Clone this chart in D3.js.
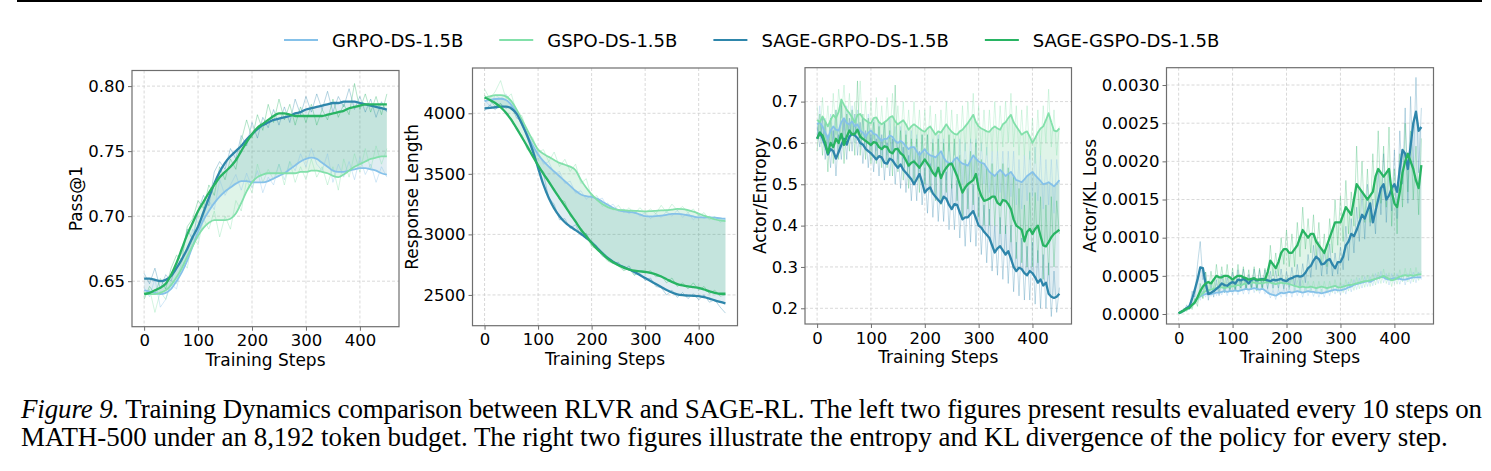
<!DOCTYPE html>
<meta charset="utf-8">
<body>
<script src="https://cdn.jsdelivr.net/npm/d3@7"></script>
<style>
  body { margin: 0; background: #fff; }
  svg text { font-family: "DejaVu Sans", sans-serif; fill: #000; }
  svg .caption text { font-family: "Liberation Serif", "Times New Roman", serif; }
</style>
<svg id="fig" width="1491" height="471"></svg>
<script>
// ---- data ----
var seriesNames = ["GRPO-DS-1.5B", "GSPO-DS-1.5B", "SAGE-GRPO-DS-1.5B", "SAGE-GSPO-DS-1.5B"];
var seriesColors = ["#85c1e9", "#82e0aa", "#2e86ab", "#28b463"];
var xTicks = [0, 100, 200, 300, 400];

// evaluated every 10 steps (left two panels)
var evalSteps = d3.range(0, 451, 10);
// logged values sampled every 5 steps (right two panels)
var logSteps = d3.range(0, 451, 5);

// Pass@1
var passGrpo = [0.643,0.642,0.641,0.640,0.641,0.644,0.650,0.657,0.666,0.677,
  0.688,0.697,0.704,0.710,0.715,0.719,0.722,0.725,0.727,0.727,
  0.726,0.726,0.726,0.727,0.729,0.731,0.733,0.736,0.739,0.742,
  0.744,0.745,0.744,0.741,0.738,0.735,0.734,0.734,0.735,0.736,
  0.737,0.737,0.736,0.735,0.733,0.732];
var passGspo = [0.641,0.640,0.640,0.641,0.643,0.647,0.653,0.660,0.669,0.677,
  0.685,0.691,0.695,0.697,0.697,0.697,0.698,0.702,0.710,0.719,
  0.726,0.730,0.732,0.733,0.733,0.733,0.733,0.733,0.733,0.734,
  0.734,0.735,0.735,0.734,0.733,0.731,0.730,0.732,0.735,0.738,
  0.740,0.742,0.744,0.745,0.746,0.746];
var passSageGrpo = [0.652,0.652,0.651,0.650,0.651,0.654,0.660,0.667,0.675,0.684,
  0.692,0.703,0.714,0.725,0.734,0.741,0.746,0.750,0.754,0.759,
  0.763,0.767,0.770,0.772,0.774,0.775,0.776,0.777,0.779,0.780,
  0.782,0.783,0.784,0.785,0.786,0.787,0.787,0.788,0.788,0.788,
  0.787,0.786,0.785,0.784,0.783,0.782];
var passSageGspo = [0.640,0.641,0.643,0.645,0.648,0.655,0.664,0.675,0.686,0.695,
  0.704,0.711,0.718,0.724,0.730,0.734,0.738,0.743,0.750,0.757,
  0.763,0.768,0.771,0.774,0.777,0.779,0.779,0.778,0.777,0.777,
  0.777,0.777,0.777,0.777,0.778,0.779,0.780,0.781,0.783,0.784,
  0.785,0.786,0.786,0.786,0.786,0.786];
var passGrpoRaw = [0.645,0.638,0.652,0.630,0.636,0.648,0.644,0.662,0.668,0.690,
  0.682,0.700,0.712,0.705,0.728,0.716,0.724,0.732,0.720,0.733,
  0.722,0.735,0.718,0.730,0.724,0.740,0.728,0.742,0.735,0.748,
  0.738,0.752,0.740,0.735,0.748,0.726,0.740,0.730,0.742,0.728,
  0.745,0.732,0.740,0.726,0.738,0.730];
var passGspoRaw = [0.638,0.644,0.626,0.642,0.636,0.650,0.648,0.666,0.660,0.684,
  0.678,0.698,0.690,0.704,0.684,0.700,0.690,0.712,0.704,0.728,
  0.718,0.740,0.726,0.736,0.728,0.740,0.724,0.742,0.726,0.738,
  0.728,0.744,0.730,0.738,0.724,0.738,0.720,0.744,0.730,0.748,
  0.734,0.752,0.736,0.754,0.740,0.752];
var passSageGrpoRaw = [0.656,0.648,0.660,0.644,0.655,0.650,0.664,0.672,0.690,0.682,
  0.704,0.716,0.708,0.734,0.742,0.736,0.752,0.744,0.762,0.754,
  0.772,0.760,0.776,0.768,0.782,0.770,0.784,0.772,0.790,0.778,
  0.792,0.780,0.794,0.782,0.796,0.780,0.792,0.784,0.798,0.782,
  0.792,0.780,0.790,0.776,0.788,0.780];
var passSageGspoRaw = [0.636,0.646,0.640,0.652,0.644,0.660,0.670,0.666,0.692,0.698,
  0.712,0.706,0.724,0.716,0.738,0.728,0.744,0.736,0.758,0.774,
  0.760,0.778,0.766,0.786,0.772,0.790,0.774,0.786,0.770,0.784,
  0.772,0.786,0.770,0.782,0.774,0.790,0.776,0.786,0.778,0.802,
  0.782,0.794,0.780,0.792,0.778,0.794];

// Response length
var lenGrpo = [4100,4110,4118,4120,4110,4070,4000,3910,3820,3735,
  3660,3605,3560,3520,3480,3440,3400,3360,3330,3315,
  3310,3295,3270,3245,3220,3200,3190,3185,3180,3165,
  3150,3148,3150,3155,3162,3170,3170,3165,3158,3148,
  3140,3140,3140,3138,3133,3130];
var lenGspo = [4130,4140,4150,4150,4140,4100,4030,3945,3860,3775,
  3700,3665,3640,3615,3590,3575,3560,3530,3450,3385,
  3330,3285,3250,3225,3210,3203,3200,3197,3195,3192,
  3190,3192,3195,3198,3200,3205,3210,3208,3200,3188,
  3172,3155,3140,3125,3115,3110];
var lenSageGrpo = [4040,4045,4050,4055,4055,4040,3995,3910,3810,3690,
  3550,3410,3300,3215,3150,3100,3065,3035,3005,2970,
  2935,2890,2845,2805,2775,2750,2730,2710,2690,2665,
  2640,2615,2590,2565,2540,2520,2505,2498,2495,2493,
  2490,2482,2470,2455,2442,2430];
var lenSageGspo = [4130,4110,4085,4050,4005,3945,3875,3800,3725,3645,
  3570,3500,3435,3365,3300,3235,3170,3105,3040,2985,
  2930,2880,2840,2800,2770,2745,2725,2710,2700,2695,
  2690,2682,2670,2652,2630,2608,2590,2578,2570,2564,
  2558,2545,2530,2518,2510,2510];
var lenGrpoRaw = [4110,4060,4150,4120,4160,4080,4020,3900,3840,3700,
  3680,3580,3600,3500,3520,3420,3440,3340,3360,3290,
  3330,3280,3300,3220,3250,3190,3210,3170,3200,3150,
  3180,3130,3170,3140,3190,3150,3200,3140,3180,3120,
  3160,3130,3150,3120,3140,3120];
var lenGspoRaw = [4200,4120,4180,4270,4120,4160,4000,3980,3830,3800,
  3680,3700,3600,3680,3560,3620,3520,3580,3420,3460,
  3300,3320,3230,3260,3200,3240,3180,3220,3170,3220,
  3180,3210,3170,3240,3180,3250,3200,3230,3180,3210,
  3150,3180,3120,3150,3100,3120];
var lenSageGrpoRaw = [4020,4070,4030,4080,4040,4060,3960,3940,3800,3720,
  3560,3500,3300,3250,3120,3130,3050,3080,2990,3010,
  2920,2880,2820,2800,2760,2770,2710,2740,2670,2680,
  2620,2640,2570,2560,2500,2540,2480,2520,2470,2510,
  2460,2500,2440,2460,2400,2350];
var lenSageGspoRaw = [4150,4100,4060,4080,3990,3960,3860,3820,3700,3660,
  3560,3520,3420,3380,3290,3270,3150,3120,3020,3000,
  2900,2880,2830,2780,2760,2740,2700,2720,2660,2700,
  2680,2700,2650,2660,2600,2640,2570,2600,2550,2600,
  2540,2570,2510,2540,2490,2500];

// Actor/Entropy (smoothed and raw, every 5 steps)
var entGrpo = [.645,.650,.640,.625,.610,.630,.640,.632,.630,.650,
  .660,.648,.645,.652,.640,.645,.630,.625,.615,.625,
  .630,.622,.620,.612,.605,.610,.610,.618,.615,.605,
  .600,.605,.600,.592,.585,.590,.590,.580,.570,.578,
  .585,.575,.570,.568,.565,.572,.580,.565,.555,.552,
  .550,.560,.565,.555,.550,.548,.545,.558,.570,.562,
  .555,.552,.550,.540,.530,.525,.520,.528,.535,.528,
  .520,.525,.530,.520,.510,.508,.505,.512,.520,.525,
  .530,.522,.515,.508,.500,.502,.505,.500,.495,.502,
  .510];
var entGspo = [.656,.650,.664,.652,.640,.655,.668,.660,.675,.705,
  .692,.680,.672,.662,.650,.668,.670,.660,.655,.650,
  .648,.660,.662,.650,.645,.650,.655,.662,.665,.652,
  .645,.650,.655,.645,.632,.640,.645,.640,.635,.630,
  .627,.635,.640,.630,.620,.628,.625,.635,.645,.635,
  .627,.622,.620,.628,.632,.640,.648,.658,.668,.650,
  .640,.635,.632,.628,.627,.635,.640,.635,.632,.645,
  .650,.660,.668,.650,.640,.630,.620,.625,.628,.615,
  .600,.612,.625,.635,.640,.655,.672,.650,.630,.628,
  .635];
var entSageGrpo = [.610,.625,.612,.595,.572,.585,.580,.562,.578,.595,
  .610,.596,.615,.622,.618,.612,.600,.596,.586,.580,
  .575,.568,.560,.568,.565,.552,.550,.562,.558,.548,
  .540,.548,.535,.528,.520,.512,.500,.512,.525,.505,
  .480,.488,.492,.478,.470,.462,.455,.470,.465,.450,
  .440,.452,.450,.432,.415,.420,.420,.428,.435,.418,
  .400,.395,.385,.378,.370,.352,.335,.345,.350,.340,
  .330,.338,.320,.300,.290,.298,.295,.285,.280,.290,
  .285,.275,.262,.270,.255,.262,.235,.228,.225,.228,
  .235];
var entSageGspo = [.610,.625,.618,.600,.575,.600,.590,.610,.600,.622,
  .595,.615,.630,.620,.622,.632,.615,.610,.605,.600,
  .595,.602,.600,.590,.585,.592,.590,.578,.575,.585,
  .585,.575,.570,.558,.545,.552,.555,.548,.540,.550,
  .560,.550,.540,.528,.520,.540,.515,.530,.540,.548,
  .550,.535,.520,.500,.480,.492,.500,.505,.510,.525,
  .490,.472,.460,.462,.465,.470,.470,.455,.450,.462,
  .460,.452,.440,.415,.400,.395,.390,.362,.385,.392,
  .380,.392,.400,.375,.352,.350,.360,.372,.380,.385,
  .390];
var entGrpoRaw = [.62,.69,.60,.66,.58,.67,.61,.68,.60,.69,
  .63,.69,.61,.69,.60,.68,.59,.66,.58,.67,
  .59,.66,.58,.65,.57,.65,.57,.66,.58,.64,
  .56,.64,.56,.63,.54,.63,.55,.62,.53,.62,
  .54,.62,.53,.61,.52,.62,.53,.61,.51,.60,
  .50,.60,.52,.61,.50,.60,.49,.61,.52,.61,
  .50,.60,.50,.59,.48,.58,.47,.58,.48,.58,
  .46,.58,.47,.58,.45,.56,.44,.57,.46,.58,
  .47,.59,.46,.57,.44,.56,.45,.56,.43,.56,
  .50];
var entGspoRaw = [.69,.61,.71,.61,.69,.60,.72,.62,.73,.66,
  .74,.63,.72,.62,.70,.62,.75,.61,.70,.60,
  .70,.61,.71,.60,.69,.60,.71,.61,.72,.60,
  .69,.60,.70,.59,.68,.59,.70,.59,.68,.58,
  .68,.58,.69,.58,.67,.57,.68,.58,.70,.58,
  .68,.57,.67,.57,.69,.58,.70,.60,.72,.59,
  .69,.58,.68,.57,.68,.58,.70,.58,.69,.59,
  .70,.60,.72,.59,.69,.57,.68,.57,.69,.56,
  .66,.55,.68,.57,.69,.60,.73,.59,.68,.57,
  .64];
var entSageGrpoRaw = [.64,.59,.66,.56,.62,.54,.63,.52,.62,.56,
  .66,.56,.66,.58,.67,.57,.65,.55,.63,.54,
  .62,.53,.61,.52,.62,.51,.60,.52,.61,.50,
  .59,.49,.59,.48,.57,.46,.56,.46,.58,.45,
  .54,.43,.55,.42,.53,.41,.52,.41,.53,.39,
  .50,.39,.51,.37,.48,.35,.49,.36,.50,.35,
  .47,.33,.45,.31,.44,.29,.40,.28,.42,.27,
  .40,.26,.40,.24,.36,.23,.37,.22,.35,.22,
  .36,.21,.34,.20,.33,.20,.31,.18,.29,.19,
  .25];
var entSageGspoRaw = [.58,.67,.57,.65,.53,.66,.55,.68,.56,.70,
  .55,.67,.58,.68,.57,.75,.57,.67,.56,.66,
  .55,.65,.55,.64,.54,.65,.54,.63,.52,.74,
  .53,.63,.51,.62,.49,.61,.50,.61,.48,.62,
  .50,.62,.48,.60,.46,.61,.45,.60,.48,.62,
  .49,.61,.46,.57,.42,.56,.44,.58,.45,.60,
  .42,.56,.40,.54,.40,.55,.40,.53,.38,.55,
  .38,.54,.36,.52,.32,.49,.31,.45,.30,.48,
  .30,.48,.31,.47,.27,.45,.28,.47,.30,.46,
  .38];

// Actor/KL loss (every 5 steps)
var klGrpo = [0.1e-4,0.2e-4,0.4e-4,0.6e-4,0.8e-4,1.2e-4,1.6e-4,2.0e-4,2.3e-4,2.5e-4,
  2.6e-4,2.7e-4,2.6e-4,2.7e-4,2.8e-4,2.8e-4,2.9e-4,3.0e-4,2.9e-4,3.0e-4,
  3.0e-4,3.1e-4,3.0e-4,3.1e-4,3.2e-4,3.3e-4,3.2e-4,3.3e-4,3.4e-4,3.3e-4,
  3.2e-4,3.3e-4,3.1e-4,2.8e-4,2.6e-4,2.5e-4,2.4e-4,2.6e-4,2.8e-4,2.7e-4,
  2.8e-4,2.9e-4,2.8e-4,2.9e-4,3.0e-4,2.9e-4,2.8e-4,2.9e-4,3.0e-4,2.9e-4,
  2.9e-4,2.8e-4,2.8e-4,2.7e-4,2.8e-4,2.9e-4,3.0e-4,3.1e-4,3.2e-4,3.1e-4,
  3.1e-4,3.2e-4,3.3e-4,3.5e-4,3.6e-4,3.8e-4,3.9e-4,4.0e-4,4.1e-4,4.2e-4,
  4.3e-4,4.2e-4,4.4e-4,4.6e-4,4.7e-4,4.9e-4,4.8e-4,4.6e-4,4.5e-4,4.6e-4,
  4.7e-4,4.6e-4,4.6e-4,4.5e-4,4.5e-4,4.6e-4,4.7e-4,4.8e-4,4.8e-4,4.8e-4,
  4.8e-4];
var klGspo = [0.1e-4,0.2e-4,0.4e-4,0.6e-4,0.9e-4,1.2e-4,1.6e-4,2.0e-4,2.4e-4,2.7e-4,
  3.0e-4,3.1e-4,3.2e-4,3.3e-4,3.4e-4,3.5e-4,3.5e-4,3.4e-4,3.5e-4,3.6e-4,
  3.6e-4,3.7e-4,3.8e-4,3.7e-4,3.9e-4,4.0e-4,4.0e-4,4.1e-4,4.1e-4,4.0e-4,
  4.0e-4,4.0e-4,4.1e-4,4.2e-4,4.1e-4,4.0e-4,3.9e-4,4.0e-4,4.1e-4,4.0e-4,
  4.0e-4,3.9e-4,3.8e-4,3.7e-4,3.6e-4,3.5e-4,3.6e-4,3.5e-4,3.5e-4,3.6e-4,
  3.5e-4,3.4e-4,3.5e-4,3.6e-4,3.5e-4,3.4e-4,3.5e-4,3.6e-4,3.7e-4,3.5e-4,
  3.5e-4,3.6e-4,3.7e-4,3.8e-4,3.8e-4,3.9e-4,4.0e-4,4.1e-4,4.2e-4,4.3e-4,
  4.3e-4,4.4e-4,4.5e-4,4.6e-4,4.7e-4,4.8e-4,5.0e-4,4.8e-4,4.6e-4,4.4e-4,
  4.5e-4,4.7e-4,4.9e-4,5.0e-4,5.1e-4,5.0e-4,5.1e-4,5.0e-4,5.1e-4,5.2e-4,
  5.2e-4];
var klSageGrpo = [0.1e-4,0.3e-4,0.5e-4,0.8e-4,1.0e-4,2.0e-4,3.2e-4,4.5e-4,6.1e-4,6.0e-4,
  4.0e-4,2.6e-4,2.8e-4,3.0e-4,3.3e-4,3.6e-4,4.0e-4,3.8e-4,3.7e-4,4.0e-4,
  4.2e-4,4.0e-4,4.5e-4,4.4e-4,4.6e-4,4.4e-4,4.0e-4,4.5e-4,4.6e-4,4.4e-4,
  4.5e-4,4.6e-4,4.5e-4,4.4e-4,4.3e-4,4.5e-4,4.4e-4,4.5e-4,4.6e-4,4.4e-4,
  4.3e-4,4.6e-4,4.7e-4,4.9e-4,5.0e-4,4.9e-4,5.0e-4,5.4e-4,6.0e-4,6.3e-4,
  7.0e-4,7.5e-4,7.2e-4,6.5e-4,6.6e-4,7.0e-4,7.2e-4,6.5e-4,6.0e-4,6.8e-4,
  6.8e-4,7.5e-4,9.0e-4,9.5e-4,10.5e-4,10.2e-4,11.0e-4,12.0e-4,13.0e-4,12.5e-4,
  13.5e-4,14.5e-4,12.0e-4,13.5e-4,15.0e-4,16.5e-4,17.0e-4,15.0e-4,15.5e-4,16.5e-4,
  17.0e-4,16.0e-4,19.0e-4,21.5e-4,21.0e-4,19.0e-4,22.0e-4,25.0e-4,26.5e-4,24.0e-4,
  24.5e-4];
var klSageGspo = [0.1e-4,0.3e-4,0.5e-4,0.7e-4,0.8e-4,1.2e-4,1.5e-4,2.2e-4,3.0e-4,3.6e-4,
  4.0e-4,4.2e-4,4.0e-4,4.5e-4,5.0e-4,4.8e-4,4.8e-4,5.0e-4,5.0e-4,4.8e-4,
  4.5e-4,4.8e-4,5.0e-4,5.0e-4,4.8e-4,4.7e-4,4.5e-4,4.6e-4,4.7e-4,4.5e-4,
  4.5e-4,4.5e-4,4.5e-4,5.5e-4,7.0e-4,6.5e-4,6.0e-4,6.8e-4,8.0e-4,8.5e-4,
  8.5e-4,8.0e-4,8.0e-4,8.5e-4,9.0e-4,10.0e-4,11.0e-4,10.5e-4,10.0e-4,10.5e-4,
  10.5e-4,9.5e-4,9.0e-4,8.5e-4,8.0e-4,9.0e-4,10.0e-4,11.0e-4,12.0e-4,12.0e-4,
  12.0e-4,13.0e-4,14.0e-4,13.5e-4,13.0e-4,15.0e-4,17.0e-4,16.5e-4,16.0e-4,15.5e-4,
  15.0e-4,15.5e-4,16.0e-4,18.0e-4,19.0e-4,18.5e-4,18.0e-4,18.5e-4,19.0e-4,16.0e-4,
  14.5e-4,14.0e-4,16.0e-4,18.5e-4,20.0e-4,21.0e-4,20.0e-4,19.0e-4,17.5e-4,16.5e-4,
  19.5e-4];
var klGrpoRaw = [0.1e-4,0.4e-4,0.3e-4,0.9e-4,0.6e-4,1.6e-4,1.2e-4,2.5e-4,1.8e-4,3.0e-4,
  2.2e-4,3.2e-4,2.3e-4,3.3e-4,2.4e-4,3.4e-4,2.5e-4,3.5e-4,2.4e-4,3.6e-4,
  2.5e-4,3.7e-4,2.5e-4,3.8e-4,2.6e-4,4.0e-4,2.6e-4,4.0e-4,2.8e-4,3.9e-4,
  2.7e-4,3.9e-4,2.6e-4,3.3e-4,2.1e-4,3.1e-4,1.9e-4,3.2e-4,2.2e-4,3.3e-4,
  2.2e-4,3.5e-4,2.2e-4,3.5e-4,2.4e-4,3.5e-4,2.2e-4,3.5e-4,2.4e-4,3.5e-4,
  2.3e-4,3.4e-4,2.2e-4,3.3e-4,2.2e-4,3.5e-4,2.4e-4,3.7e-4,2.6e-4,3.7e-4,
  2.5e-4,3.9e-4,2.6e-4,4.2e-4,2.9e-4,4.5e-4,3.2e-4,4.7e-4,3.4e-4,4.9e-4,
  3.6e-4,4.9e-4,3.7e-4,5.3e-4,4.0e-4,5.6e-4,4.1e-4,5.3e-4,3.8e-4,5.3e-4,
  4.0e-4,5.3e-4,3.9e-4,5.2e-4,3.8e-4,5.3e-4,4.0e-4,5.5e-4,4.1e-4,5.5e-4,
  4.5e-4];
var klGspoRaw = [0.2e-4,0.1e-4,0.7e-4,0.3e-4,1.3e-4,0.8e-4,2.1e-4,1.5e-4,2.9e-4,2.1e-4,
  3.6e-4,2.5e-4,3.8e-4,2.6e-4,4.0e-4,2.8e-4,4.2e-4,2.8e-4,4.2e-4,2.9e-4,
  4.3e-4,3.0e-4,4.5e-4,3.0e-4,4.7e-4,3.2e-4,4.8e-4,3.3e-4,4.9e-4,3.2e-4,
  4.8e-4,3.3e-4,4.9e-4,3.4e-4,4.9e-4,3.2e-4,4.7e-4,3.2e-4,4.9e-4,3.3e-4,
  4.8e-4,3.2e-4,4.6e-4,3.0e-4,4.4e-4,2.8e-4,4.4e-4,2.8e-4,4.3e-4,2.9e-4,
  4.3e-4,2.7e-4,4.3e-4,2.8e-4,4.3e-4,2.7e-4,4.3e-4,2.8e-4,4.5e-4,2.8e-4,
  4.3e-4,2.8e-4,4.5e-4,3.0e-4,4.6e-4,3.1e-4,4.8e-4,3.3e-4,5.0e-4,3.5e-4,
  5.1e-4,3.6e-4,5.3e-4,3.8e-4,5.5e-4,4.0e-4,5.9e-4,4.0e-4,5.4e-4,3.6e-4,
  5.4e-4,3.9e-4,5.8e-4,4.2e-4,6.0e-4,4.2e-4,6.0e-4,4.2e-4,6.1e-4,4.4e-4,
  5.6e-4];
var klSageGrpoRaw = [0.0e-4,0.5e-4,0.3e-4,1.2e-4,0.6e-4,3.0e-4,2.2e-4,6.5e-4,9.5e-4,4.5e-4,
  5.5e-4,1.8e-4,3.8e-4,2.2e-4,4.5e-4,2.4e-4,5.2e-4,2.8e-4,4.8e-4,3.0e-4,
  5.5e-4,3.0e-4,5.8e-4,3.4e-4,5.9e-4,3.3e-4,5.2e-4,3.5e-4,5.9e-4,3.3e-4,
  5.8e-4,3.5e-4,5.8e-4,3.3e-4,5.6e-4,3.4e-4,5.7e-4,3.4e-4,5.9e-4,3.3e-4,
  5.6e-4,3.5e-4,6.1e-4,3.6e-4,6.5e-4,3.6e-4,6.6e-4,4.1e-4,7.8e-4,4.8e-4,
  9.0e-4,5.8e-4,9.5e-4,5.0e-4,8.5e-4,5.2e-4,9.2e-4,5.0e-4,8.0e-4,5.2e-4,
  8.8e-4,5.8e-4,11.5e-4,7.0e-4,12.5e-4,8.0e-4,14.0e-4,9.5e-4,16.0e-4,9.8e-4,
  17.0e-4,11.5e-4,15.0e-4,10.5e-4,19.0e-4,13.0e-4,21.0e-4,12.0e-4,19.0e-4,13.5e-4,
  21.5e-4,12.5e-4,24.0e-4,17.0e-4,27.0e-4,14.5e-4,28.5e-4,19.0e-4,31.0e-4,18.5e-4,
  27.0e-4];
var klSageGspoRaw = [0.2e-4,0.1e-4,0.8e-4,0.4e-4,1.2e-4,0.6e-4,2.0e-4,1.0e-4,4.0e-4,2.0e-4,
  5.5e-4,2.8e-4,5.6e-4,3.0e-4,6.5e-4,3.6e-4,6.2e-4,3.5e-4,6.5e-4,3.3e-4,
  6.0e-4,3.2e-4,6.5e-4,3.5e-4,6.2e-4,3.2e-4,5.8e-4,3.2e-4,6.2e-4,3.0e-4,
  6.0e-4,3.2e-4,6.0e-4,4.0e-4,9.0e-4,5.0e-4,8.0e-4,5.0e-4,10.0e-4,6.5e-4,
  11.0e-4,6.2e-4,10.5e-4,6.2e-4,12.0e-4,7.5e-4,14.0e-4,8.5e-4,12.5e-4,8.0e-4,
  13.0e-4,7.5e-4,12.0e-4,6.5e-4,10.5e-4,6.2e-4,12.5e-4,8.0e-4,15.0e-4,9.0e-4,
  15.5e-4,9.5e-4,17.5e-4,10.5e-4,16.0e-4,11.5e-4,22.0e-4,12.5e-4,20.0e-4,12.0e-4,
  19.0e-4,12.0e-4,21.0e-4,14.0e-4,24.0e-4,14.5e-4,22.0e-4,14.0e-4,24.5e-4,11.5e-4,
  19.0e-4,10.5e-4,21.0e-4,14.0e-4,25.0e-4,16.0e-4,24.0e-4,15.0e-4,22.0e-4,13.0e-4,
  23.0e-4];

var captionLine1 = "Training Dynamics comparison between RLVR and SAGE-RL. The left two figures present results evaluated every 10 steps on";
var captionLine2 = "MATH-500 under an 8,192 token budget. The right two figures illustrate the entropy and KL divergence of the policy for every step.";

// ---- layout ----
var svg = d3.select("#fig");

var panels = [
  {box: [132, 70.5, 399, 326.7], yDomain: [0.615, 0.812], yTicks: [0.65, 0.70, 0.75, 0.80], fmt: ".2f",
   label: "Pass@1", steps: evalSteps, curve: d3.curveMonotoneX,
   main: [passGrpo, passGspo, passSageGrpo, passSageGspo],
   raw: [passGrpoRaw, passGspoRaw, passSageGrpoRaw, passSageGspoRaw]},
  {box: [472.5, 68, 737.5, 325.7], yDomain: [2246, 4374], yTicks: [2500, 3000, 3500, 4000], fmt: "d",
   label: "Response Length", steps: evalSteps, curve: d3.curveMonotoneX,
   main: [lenGrpo, lenGspo, lenSageGrpo, lenSageGspo],
   raw: [lenGrpoRaw, lenGspoRaw, lenSageGrpoRaw, lenSageGspoRaw]},
  {box: [805, 67.7, 1071.5, 324], yDomain: [0.162, 0.782], yTicks: [0.2, 0.3, 0.4, 0.5, 0.6, 0.7], fmt: ".1f",
   label: "Actor/Entropy", steps: logSteps, curve: d3.curveLinear,
   main: [entGrpo, entGspo, entSageGrpo, entSageGspo],
   raw: [entGrpoRaw, entGspoRaw, entSageGrpoRaw, entSageGspoRaw]},
  {box: [1166.5, 67.7, 1433.5, 324], yDomain: [-0.000131, 0.003227], yTicks: [0, 0.0005, 0.001, 0.0015, 0.002, 0.0025, 0.003], fmt: ".4f",
   label: "Actor/KL Loss", steps: logSteps, curve: d3.curveLinear,
   main: [klGrpo, klGspo, klSageGrpo, klSageGspo],
   raw: [klGrpoRaw, klGspoRaw, klSageGrpoRaw, klSageGspoRaw]}
];

var tickFont = 16.5, labelFont = 17;

panels.forEach(function(p, pi) {
  var l = p.box[0], t = p.box[1], r = p.box[2], b = p.box[3];
  var x = d3.scaleLinear().domain([-22.5, 472.5]).range([l, r]);
  var y = d3.scaleLinear().domain(p.yDomain).range([b, t]);
  var g = svg.append("g");

  g.append("clipPath").attr("id", "clip" + pi)
    .append("rect").attr("x", l).attr("y", t).attr("width", r - l).attr("height", b - t);

  // grid
  g.selectAll(".gx").data(xTicks).enter().append("line")
    .attr("x1", function(d) { return x(d); }).attr("x2", function(d) { return x(d); })
    .attr("y1", t).attr("y2", b)
    .attr("stroke", "#cfcfcf").attr("stroke-width", 0.8).attr("stroke-dasharray", "3,2");
  g.selectAll(".gy").data(p.yTicks).enter().append("line")
    .attr("y1", function(d) { return y(d); }).attr("y2", function(d) { return y(d); })
    .attr("x1", l).attr("x2", r)
    .attr("stroke", "#cfcfcf").attr("stroke-width", 0.8).attr("stroke-dasharray", "3,2");

  var plot = g.append("g").attr("clip-path", "url(#clip" + pi + ")");

  // shaded gap between each baseline and its SAGE variant
  [[0, 2], [1, 3]].forEach(function(pair) {
    var lo = p.main[pair[0]], hi = p.main[pair[1]];
    var area = d3.area().curve(p.curve)
      .x(function(d, i) { return x(p.steps[i]); })
      .y0(function(d, i) { return y(lo[i]); })
      .y1(function(d, i) { return y(hi[i]); });
    plot.append("path").datum(p.steps).attr("d", area)
      .attr("fill", seriesColors[pair[1]]).attr("fill-opacity", 0.15);
  });

  // raw curves
  p.raw.forEach(function(vals, si) {
    var line = d3.line().x(function(d, i) { return x(p.steps[i]); }).y(function(d) { return y(d); });
    plot.append("path").datum(vals).attr("d", line)
      .attr("fill", "none").attr("stroke", seriesColors[si])
      .attr("stroke-width", 1).attr("stroke-opacity", pi < 2 ? 0.35 : 0.3);
  });

  // smoothed curves
  p.main.forEach(function(vals, si) {
    var line = d3.line().curve(p.curve)
      .x(function(d, i) { return x(p.steps[i]); }).y(function(d) { return y(d); });
    plot.append("path").datum(vals).attr("d", line)
      .attr("fill", "none").attr("stroke", seriesColors[si])
      .attr("stroke-width", si < 2 ? 1.8 : 2.3)
      .attr("stroke-linejoin", "round");
  });

  // frame
  g.append("rect").attr("x", l).attr("y", t).attr("width", r - l).attr("height", b - t)
    .attr("fill", "none").attr("stroke", "#6e6e6e").attr("stroke-width", 1.2);

  // axes
  var xa = g.append("g").attr("transform", "translate(0," + b + ")")
    .call(d3.axisBottom(x).tickValues(xTicks).tickSize(4).tickPadding(4).tickFormat(d3.format("d")));
  var ya = g.append("g").attr("transform", "translate(" + l + ",0)")
    .call(d3.axisLeft(y).tickValues(p.yTicks).tickSize(4).tickPadding(3).tickFormat(d3.format(p.fmt)));
  [xa, ya].forEach(function(a) {
    a.select(".domain").remove();
    a.selectAll(".tick line").attr("stroke", "#6e6e6e").attr("stroke-width", 1);
    a.selectAll(".tick text").style("font-size", tickFont + "px").attr("fill", "#000");
  });

  var maxW = d3.max(ya.selectAll(".tick text").nodes(), function(n) { return n.getComputedTextLength(); });

  g.append("text")
    .attr("x", (l + r) / 2).attr("y", b + 33)
    .attr("text-anchor", "middle").attr("dominant-baseline", "central")
    .style("font-size", labelFont + "px")
    .text("Training Steps");
  g.append("text")
    .attr("transform", "translate(" + (l - 7 - maxW - 12) + "," + ((t + b) / 2) + ") rotate(-90)")
    .attr("text-anchor", "middle").attr("dominant-baseline", "central")
    .style("font-size", labelFont + "px")
    .text(p.label);
});

// legend
var legend = svg.append("g");
var lx = 284;
seriesNames.forEach(function(name, i) {
  legend.append("line").attr("x1", lx).attr("x2", lx + 34).attr("y1", 40).attr("y2", 40)
    .attr("stroke", seriesColors[i]).attr("stroke-width", 2.2);
  var txt = legend.append("text").attr("x", lx + 48).attr("y", 40)
    .attr("dominant-baseline", "central").style("font-size", "18px").text(name);
  lx += 48 + txt.node().getComputedTextLength() + 36;
});

// top rule
svg.append("rect").attr("x", 17).attr("y", 0).attr("width", 1465).attr("height", 2).attr("fill", "#000");

// caption: second line sets the font size, first line is justified
var cap = svg.append("g").attr("class", "caption");
var l2 = cap.append("text").attr("x", 21).attr("y", 446).style("font-size", "20px").text(captionLine2);
var fs = 20 * 1427 / l2.node().getComputedTextLength();
l2.style("font-size", fs + "px");
var l1 = cap.append("text").attr("x", 21).attr("y", 418).style("font-size", fs + "px")
  .attr("textLength", 1461).attr("lengthAdjust", "spacing");
l1.append("tspan").style("font-style", "italic").text("Figure 9.");
l1.append("tspan").text(" " + captionLine1);
</script>
